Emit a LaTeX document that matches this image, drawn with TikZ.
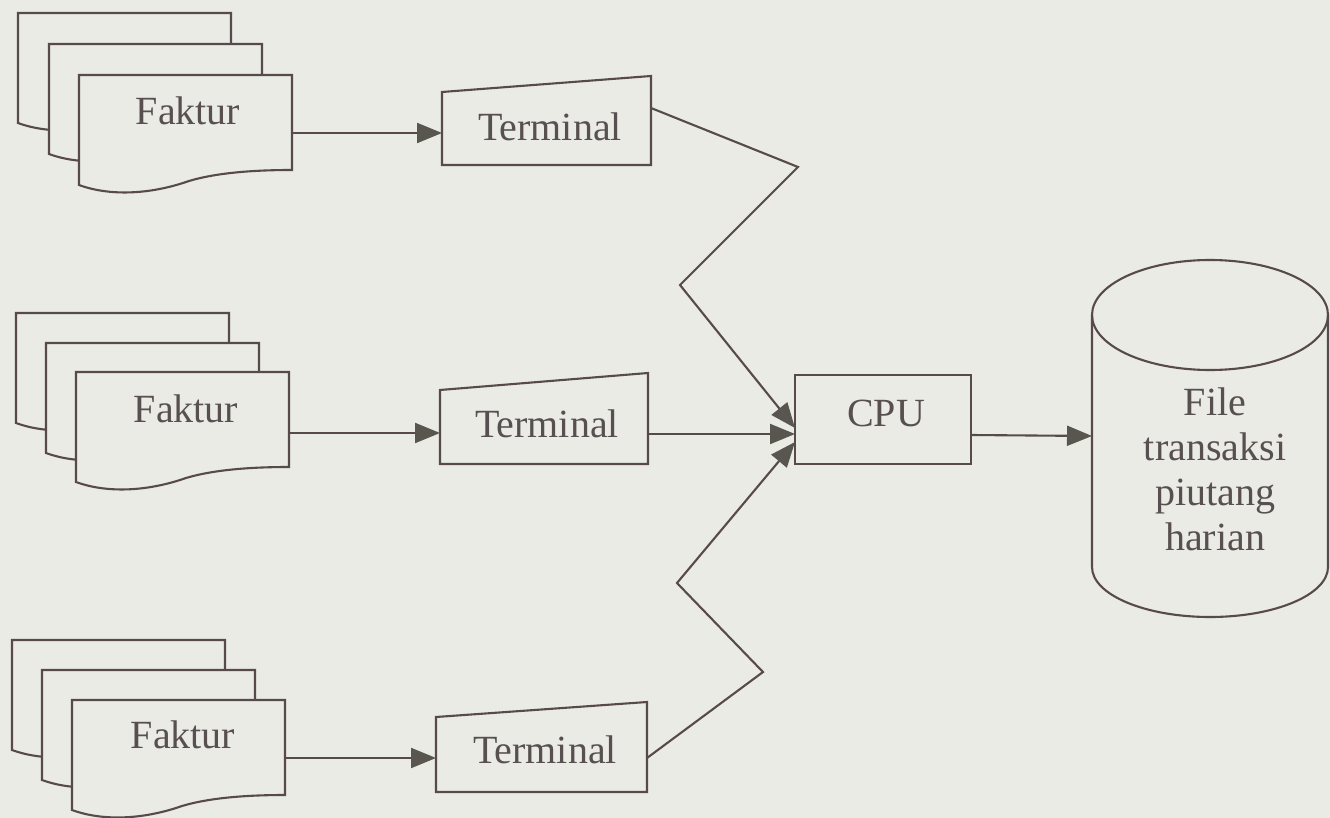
\documentclass[tikz,border=0pt]{standalone}
\usepackage{fontspec}
\setmainfont{Liberation Serif}
\usetikzlibrary{arrows.meta}
\definecolor{bgc}{RGB}{233,235,228}
\definecolor{ink}{RGB}{88,74,74}
\definecolor{txt}{RGB}{88,80,80}
\definecolor{tipc}{RGB}{88,86,78}
\tikzset{
  shapeline/.style={draw=ink, line width=2.1pt, fill=bgc, line join=miter},
  lbl/.style={text=txt, font=\fontsize{40}{45}\selectfont, inner sep=0pt},
  conn/.style={draw=ink, line width=2.1pt},
  arr/.style={conn, -{Triangle[length=25pt,width=20pt,fill=tipc,color=tipc]}},
}
\newcommand{\docshape}[2]{%
  \begin{scope}[shift={(#1,#2)}]
    \path[shapeline] (0,0) -- (213,0) -- (213,95)
      .. controls (180,95) and (140,97) .. (110,106)
      .. controls (70,120) and (30,121) .. (0,110) -- cycle;
  \end{scope}}
\begin{document}
\begin{tikzpicture}[x=1pt,y=-1pt]
\fill[bgc] (0,0) rectangle (1330,818);
\useasboundingbox (0,0) rectangle (1330,818);

% document stacks
\docshape{18}{13}\docshape{49}{44}\docshape{79}{75}
\docshape{16}{313}\docshape{46}{343}\docshape{76}{372}
\docshape{12}{640}\docshape{42}{670}\docshape{72}{700}
\node[lbl] (f1) at (188,111) {Faktur};
\node[lbl] (f2) at (186,409) {Faktur};
\node[lbl] (f3) at (183,735) {Faktur};
\coordinate (d1) at (292,133);
\coordinate (d2) at (288,433);
\coordinate (d3) at (286,758);

% terminals (manual input)
\path[shapeline] (442,165) -- (442,92) -- (651,76) -- (651,165) -- cycle;
\path[shapeline] (440,464) -- (440,390) -- (648,373) -- (648,464) -- cycle;
\path[shapeline] (436,792) -- (436,717) -- (647,702) -- (647,792) -- cycle;
\node[lbl] (t1) at (550,127) {Terminal};
\node[lbl] (t2) at (547,424) {Terminal};
\node[lbl] (t3) at (545,750) {Terminal};
\coordinate (t1in) at (442,133);
\coordinate (t2in) at (440,433);
\coordinate (t3in) at (436,758);
\coordinate (t1out) at (651,108);
\coordinate (t2out) at (648,434);
\coordinate (t3out) at (647,758);
\coordinate (z1a) at (798,167);
\coordinate (z1b) at (680,285);
\coordinate (z3a) at (763,672);
\coordinate (z3b) at (677,583);

% CPU
\node[shapeline, minimum width=176pt, minimum height=89pt, inner sep=0pt] (cpu) at (883,419.5) {};
\node[lbl] (cpul) at (886,413) {CPU};
\coordinate (cpuinA) at (795,428);
\coordinate (cpuinB) at (795,434);
\coordinate (cpuinC) at (795,442);
\coordinate (cpuout) at (971,435);

% cylinder
\path[shapeline] (1092,315) -- (1092,567) arc[start angle=180, end angle=360, x radius=118, y radius=-50] -- (1328,315) arc[start angle=0, end angle=180, x radius=118, y radius=-55] -- cycle;
\draw[draw=ink, line width=2.1pt] (1092,315) arc[start angle=180, end angle=360, x radius=118, y radius=-55];
\node[lbl, align=center] (file) at (1215,469) {File\\transaksi\\piutang\\harian};
\coordinate (filein) at (1092,436);

% connectors
\draw[arr] (d1) -- (t1in);
\draw[arr] (d2) -- (t2in);
\draw[arr] (d3) -- (t3in);
\draw[arr] (t1out) -- (z1a) -- (z1b) -- (cpuinA);
\draw[arr] (t2out) -- (cpuinB);
\draw[arr] (t3out) -- (z3a) -- (z3b) -- (cpuinC);
\draw[arr] (cpuout) -- (filein);
\end{tikzpicture}
\end{document}
